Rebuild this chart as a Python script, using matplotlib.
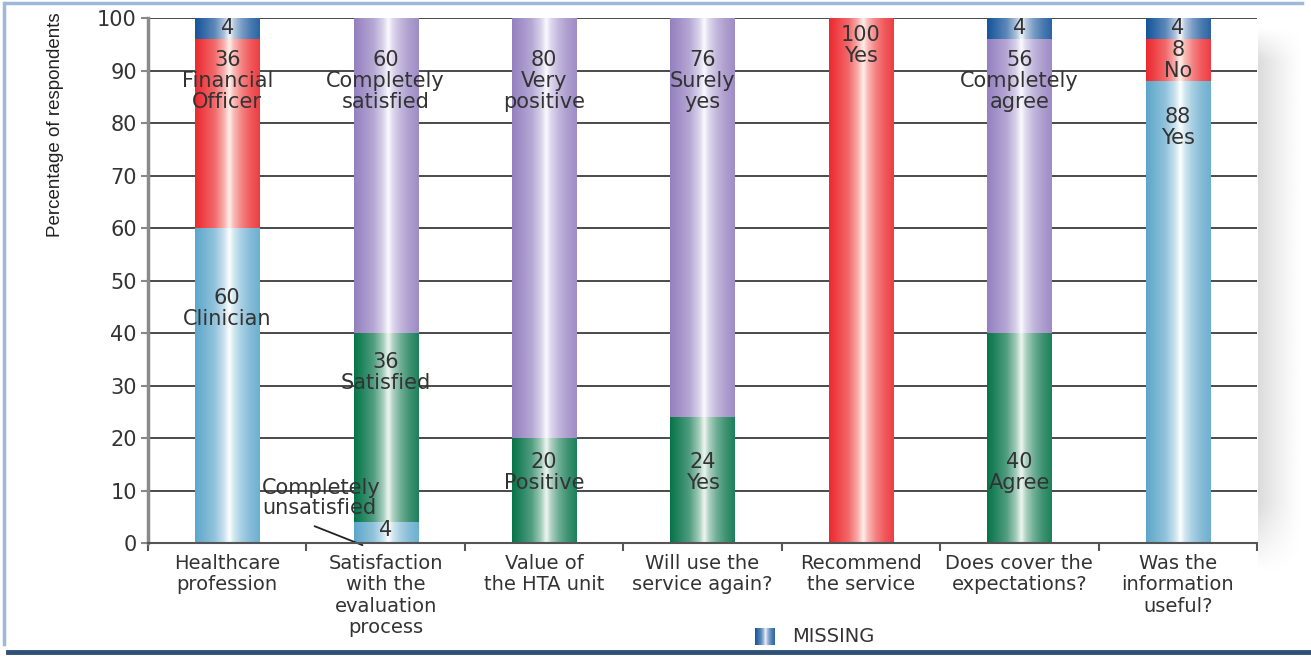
import numpy as np
import matplotlib
matplotlib.use('Agg')
import matplotlib.pyplot as plt
from matplotlib.lines import Line2D

# categories (x axis)
categories = ['Healthcare\nprofession', 'Satisfaction\nwith the\nevaluation\nprocess',
              'Value of\nthe HTA unit', 'Will use the\nservice again?', 'Recommend\nthe service',
              'Does cover the\nexpectations?', 'Was the\ninformation\nuseful?']

# stacked segments per category, bottom to top
seg_values = [[60, 36, 4], [4, 36, 60], [20, 80], [24, 76], [100], [40, 56, 4], [88, 8, 4]]
seg_kinds = [['blue', 'red', 'missing'], ['blue', 'green', 'purple'], ['green', 'purple'],
             ['green', 'purple'], ['red'], ['green', 'purple', 'missing'], ['blue', 'red', 'missing']]
seg_names = [['Clinician', 'Financial\nOfficer', ''], ['', 'Satisfied', 'Completely\nsatisfied'],
             ['Positive', 'Very\npositive'], ['Yes', 'Surely\nyes'], ['Yes'],
             ['Agree', 'Completely\nagree', ''], ['Yes', 'No', '']]
# where the first line of each segment label sits (percentage units)
label_y = [[46.7, 92.0, 98.1], [2.4, 34.5, 92.0], [15.4, 92.0], [15.4, 92.0], [96.8],
           [15.4, 92.0, 98.1], [81.1, 93.9, 98.1]]

base_colors = {'blue': '#5ea7cb', 'red': '#ec2a30', 'green': '#07744a',
               'purple': '#9581c0', 'missing': '#16559a'}
center_colors = {'blue': '#ffffff', 'red': '#fff1ea', 'green': '#f0f7f2',
                 'purple': '#fbfaff', 'missing': '#f4f6fb'}


def gradient(kind, n=64):
    t = np.linspace(0, 1, n)
    w = np.interp(t, [0, 0.1, 0.3, 0.45, 0.53, 0.6, 0.72, 0.86, 1.0],
                  [0.0, 0.1, 0.32, 0.68, 1.0, 0.72, 0.45, 0.24, 0.1])
    c0 = np.array(matplotlib.colors.to_rgb(base_colors[kind]))
    c1 = np.array(matplotlib.colors.to_rgb(center_colors[kind]))
    img = c0[None, :] * (1 - w[:, None]) + c1[None, :] * w[:, None]
    return img[None, :, :]


fig = plt.figure(figsize=(13.11, 6.57), dpi=100)
ax = fig.add_axes([0.1129, 0.1735, 0.8459, 0.7991])

# soft shadow right of the plot
sh = fig.add_axes([0.9595, 0.13, 0.035, 0.83])
gx = np.linspace(0, 1, 40)
gy = np.linspace(0, 1, 120)
fade_y = np.clip(np.minimum(gy / 0.12, (1 - gy) / 0.06), 0, 1)
shade = 1 - 0.14 * (1 - gx[None, :]) ** 1.3 * fade_y[:, None]
sh.imshow(shade, cmap='gray', vmin=0, vmax=1, aspect='auto', interpolation='bilinear',
          origin='lower')
sh.axis('off')

width = 0.404
text_col = '#333333'
for i, (vals, kinds, names, ys) in enumerate(zip(seg_values, seg_kinds, seg_names, label_y)):
    bottom = 0
    for v, k, nm, ly in zip(vals, kinds, names, ys):
        ax.imshow(gradient(k), extent=(i - width / 2, i + width / 2, bottom, bottom + v),
                  aspect='auto', interpolation='bilinear', zorder=2)
        lines = [str(v)] + (nm.split('\n') if nm else [])
        for j, line in enumerate(lines):
            ax.text(i, ly - 4.0 * j, line, ha='center', va='center', fontsize=15,
                    color=text_col, zorder=4)
        bottom += v

# call-out for the small segment
ax.text(0.22, 10.5, 'Completely', ha='left', va='center', fontsize=15, color=text_col, zorder=4)
ax.text(0.22, 6.7, 'unsatisfied', ha='left', va='center', fontsize=15, color=text_col, zorder=4)
ax.annotate('', xy=(0.87, -0.6), xytext=(0.535, 3.4),
            arrowprops=dict(arrowstyle='-', color='#222222', lw=1.3), annotation_clip=False)

ax.set_xlim(-0.5, len(categories) - 0.5)
ax.set_ylim(0, 100)
ax.set_aspect('auto')
ax.set_yticks(range(0, 101, 10))
ax.yaxis.grid(True, color='#3c3c3c', lw=1.3)
ax.set_axisbelow(True)
ax.set_xticks(range(len(categories)))
ax.set_xticklabels(categories, fontsize=14, color=text_col, linespacing=1.15)
ax.set_xticks(np.arange(-0.5, len(categories), 1.0), minor=True)
ax.tick_params(axis='x', which='major', length=0, pad=8)
ax.tick_params(axis='x', which='minor', length=6, color='#555555', width=1.5)
ax.tick_params(axis='y', length=5, color='#888888', width=1.5, labelsize=15,
               labelcolor=text_col, pad=3)
for s in ['top', 'right']:
    ax.spines[s].set_visible(False)
ax.spines['left'].set_color('#8a8a8a')
ax.spines['left'].set_linewidth(2.5)
ax.spines['bottom'].set_color('#555555')
ax.spines['bottom'].set_linewidth(1.5)
ax.spines['bottom'].set_zorder(5)

fig.text(0.042, 0.81, 'Percentage of respondents', rotation=90, ha='center', va='center',
         fontsize=13.5, color='#222222', family=['Liberation Sans', 'DejaVu Sans'])

# legend: MISSING
lg = fig.add_axes([0.576, 0.018, 0.015, 0.026])
lg.imshow(gradient('missing'), aspect='auto', interpolation='bilinear')
lg.axis('off')
fig.text(0.604, 0.031, 'MISSING', ha='left', va='center', fontsize=14, color=text_col)

# frame lines
fig.add_artist(Line2D([0.004, 0.993], [0.995, 0.995], color='#9cb9d9', lw=2.5))
fig.add_artist(Line2D([0.003, 0.003], [0.02, 0.995], color='#9cb9d9', lw=2.5))
fig.add_artist(Line2D([0.006, 1.0], [0.008, 0.008], color='#2e5079', lw=3.5))

plt.savefig('out.png', dpi=100)
plt.close(fig)
